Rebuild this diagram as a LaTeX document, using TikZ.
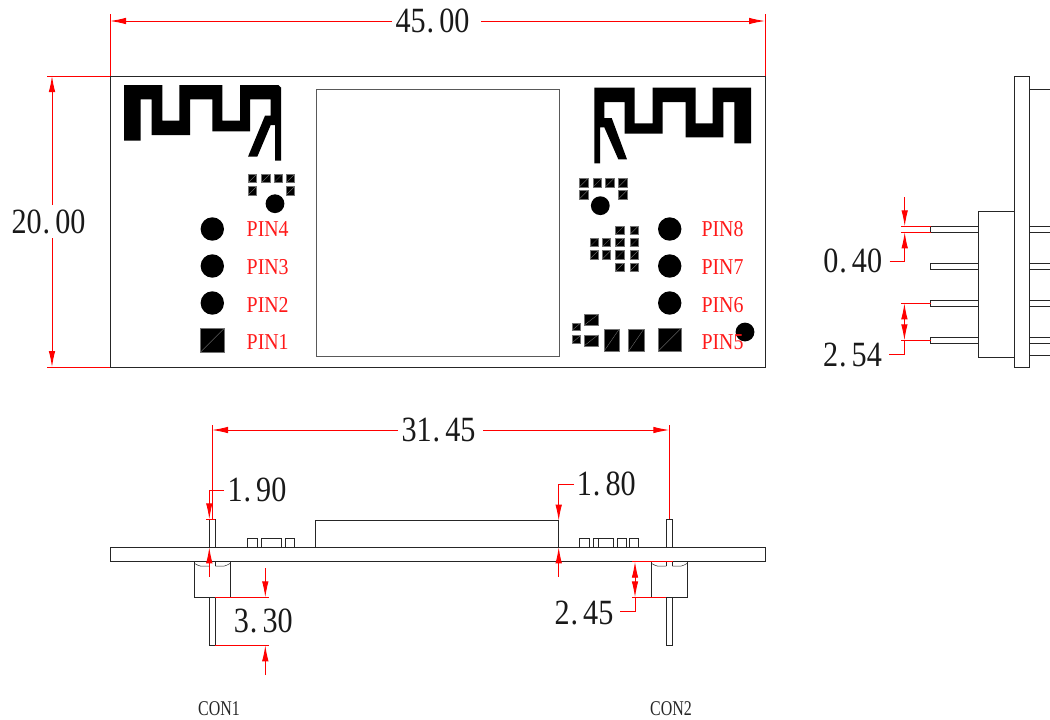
\documentclass[tikz,border=0pt]{standalone}
\usepackage{graphicx,fontspec}
\usetikzlibrary{arrows.meta,positioning}
\setmainfont{Liberation Serif}

\def\dimtxt#1.#2;{\scalebox{0.85}[1]{\fontsize{35.5}{36}\selectfont #1\kern.03em.\kern.17em#2}}
\newcommand{\pintxt}[1]{\scalebox{0.875}[1]{\fontsize{22.7}{23}\selectfont #1}}
\newcommand{\contxt}[1]{\scalebox{0.76}[1]{\fontsize{21}{21}\selectfont #1}}

\begin{document}
\begin{tikzpicture}[x=1pt,y=-1pt,line width=.8pt,
    dim/.style={red,line width=.9pt},
    dimarrow/.style={dim,-{Latex[length=16pt,width=6.5pt]}},
    dimlabel/.style={inner sep=0pt,text=black!90},
    pinlabel/.style={inner sep=0pt,text=red!90},
    conlabel/.style={inner sep=0pt,text=black!85},
    outline/.style={draw=black!85},
    copper/.style={fill=black},
    pad/.style={rectangle,fill=black,draw=black!55,line width=.4pt,inner sep=0pt,
        path picture={\draw[black!50,line width=.3pt] (path picture bounding box.south west) -- (path picture bounding box.north east);}},
    smallpad/.style={pad,minimum width=8.3pt,minimum height=8.3pt},
    hole/.style={circle,fill=black,inner sep=0pt,minimum size=23.4pt},
    via/.style={circle,fill=black,inner sep=0pt,minimum size=18.8pt}]

    \useasboundingbox (0,0) rectangle (1050,720);

    % top view
    \draw[outline] (110,76) rectangle (765,367);
    \draw[draw=black!65] (316,89) rectangle (559,356);

    \fill[copper] (124,85) -- (162.3,85) -- (162.3,120.7) -- (179.3,120.7) -- (179.3,85)
        -- (222.3,85) -- (222.3,120.7) -- (240,120.7) -- (240,85) -- (278.3,85) -- (281,87.5)
        -- (281,160.7) -- (275,160.7) -- (275,125) -- (270.7,125) -- (257.3,156.7) -- (248,156.7)
        -- (265,115.7) -- (270.7,115.7) -- (270.7,99.3) -- (250,99.3) -- (250,131.3) -- (212.3,131.3)
        -- (212.3,99.3) -- (190,99.3) -- (190,135) -- (151.7,135) -- (151.7,99.3) -- (140.7,99.3)
        -- (140.7,140.7) -- (124,140.7) -- cycle;
    \fill[copper] (594.3,87.7) -- (634.7,87.7) -- (634.7,123.3) -- (652.7,123.3) -- (652.7,87.7)
        -- (695.7,87.7) -- (695.7,123.3) -- (712.7,123.3) -- (712.7,87.7) -- (751,87.7)
        -- (751,143.3) -- (734.3,143.3) -- (734.3,102) -- (723.3,102) -- (723.3,137.3) -- (685.7,137.3)
        -- (685.7,102) -- (662.7,102) -- (662.7,133.7) -- (624.7,133.7) -- (624.7,102) -- (604.3,102)
        -- (604.3,118) -- (611.7,118) -- (627,159.3) -- (618.3,159.3) -- (604.3,127.3) -- (600,127.3)
        -- (600,163.3) -- (594.3,163.3) -- cycle;

    \foreach \x/\y [count=\i] in {252.3/178.5,265.7/178.5,278/178.5,290.3/178.5,252.3/190.8,290.3/190.8,
            583.7/182.7,597.3/182.7,609.7/182.7,622.7/182.7,583.7/194.7,622.7/194.7,
            619.7/230.3,634/230.3,594/242.5,606.5/242.5,619.7/242.5,634/242.5,
            594/254.8,606.5/254.8,619.7/254.8,634/254.8,619.7/267.2,634/267.2}
        \node[smallpad] (pad\i) at (\x,\y) {};

    \foreach \x/\y/\w/\h [count=\i] in {576.3/326.7/8.7/7.3,576.3/339.2/8.7/7.6,591.3/319.7/14/10.7,
            591.3/340.2/14/11,611.7/340/15.3/22.3,636.3/340/15.3/22.3,
            669.7/339.7/23.3/23.3,212.3/340.3/23.3/23.3}
        \node[pad,minimum width=\w pt,minimum height=\h pt] (smd\i) at (\x,\y) {};

    \foreach \x/\y [count=\i] in {212.3/229,212.3/266,212.3/303,669.7/229,669.7/266,669.7/303}
        \node[hole] (hole\i) at (\x,\y) {};
    \foreach \x/\y [count=\i] in {275/203.7,600.3/205.7,745/332}
        \node[via] (via\i) at (\x,\y) {};

    \foreach \n/\y in {4/229,3/267.3,2/304.7,1/341.7}
        \node[pinlabel] (pin\n) at (267.7,\y) {\pintxt{PIN\n}};
    \foreach \n/\y in {8/229,7/267,6/304.7,5/341.7}
        \node[pinlabel] (pin\n) at (722.5,\y) {\pintxt{PIN\n}};

    % side view
    \draw[outline] (1014.5,76) rectangle (1029.5,367);
    \draw[outline] (1014.5,211.5) -- (978.7,211.5) -- (978.7,357.7) -- (1014.5,357.7);
    \draw[outline] (1029.5,89) -- (1050,89);
    \draw[outline] (1029.5,355.7) -- (1050,355.7);
    \foreach \y in {226.3,263.3,300.3,337.3} {
        \draw[outline] (978.7,\y) -- (930.7,\y) -- (930.7,\y+6) -- (978.7,\y+6);
        \draw[outline] (1029.5,\y) -- (1050,\y);
        \draw[outline] (1029.5,\y+6) -- (1050,\y+6);
    }

    % bottom view
    \draw[outline] (110,547.3) rectangle (765,561.7);
    \draw[outline] (315.7,547.3) -- (315.7,520.7) -- (558.3,520.7) -- (558.3,547.3);
    \foreach \xa/\xb in {247.7/257.7,261.7/281.7,285.7/294.7,579.3/589.7,593.3/613,598.3/613,617.3/626.7,629.3/638.3}
        \draw[outline] (\xa,547.3) -- (\xa,538.3) -- (\xb,538.3) -- (\xb,547.3);
    \foreach \x in {209.3,666.3} {
        \draw[outline] (\x,547.3) -- (\x,519.3) -- (\x+6,519.3) -- (\x+6,547.3);
        \draw[outline] (\x,561.7) -- (\x,566);
        \draw[outline] (\x+6,561.7) -- (\x+6,566);
        \draw[outline] (\x,597.3) -- (\x,645.3) -- (\x+6,645.3) -- (\x+6,597.3);
        \draw[outline] (\x-15,561.7) rectangle (\x+21,597.3);
        \draw[outline,line width=.5pt] (\x-15,563.3) .. controls (\x-11,565.5) .. (\x-9,566) -- (\x,566);
        \draw[outline,line width=.5pt] (\x+21,563.3) .. controls (\x+17,565.5) .. (\x+15,566) -- (\x+6,566);
    }

    % dimensions, top view
    \draw[dim] (110,14) -- (110,76);
    \draw[dim] (765,14) -- (765,76);
    \draw[dimarrow] (392,21) -- (110,21);
    \draw[dimarrow] (481,21) -- (765,21);
    \node[dimlabel] (width) at (432.5,21) {\dimtxt 45.00;};
    \draw[dim] (47,76) -- (110,76);
    \draw[dim] (47,367) -- (110,367);
    \draw[dimarrow] (52,205) -- (52,76);
    \draw[dimarrow] (52,238) -- (52,367);
    \node[dimlabel] (height) at (48.5,222) {\dimtxt 20.00;};

    % dimensions, side view
    \draw[dim] (901.3,226.3) -- (930.7,226.3);
    \draw[dim] (901.3,232.3) -- (930.7,232.3);
    \draw[dimarrow] (904.7,197) -- (904.7,226.3);
    \draw[dimarrow] (889.7,261.3) -- (904.7,261.3) -- (904.7,232.3);
    \node[dimlabel] (pinw) at (852.7,261.3) {\dimtxt 0.40;};
    \draw[dim] (901.3,303.3) -- (930.7,303.3);
    \draw[dim] (901.3,340.3) -- (930.7,340.3);
    \draw[dimarrow] (904.4,322) -- (904.4,303.3);
    \draw[dimarrow] (904.4,322) -- (904.4,340.3);
    \draw[dim] (889.3,354.7) -- (904.4,354.7) -- (904.4,340.3);
    \node[dimlabel] (pinp) at (852.5,355) {\dimtxt 2.54;};

    % dimensions, bottom view
    \draw[dim] (212,425) -- (212,519.3);
    \draw[dim] (669.3,425) -- (669.3,519.3);
    \draw[dimarrow] (398,430) -- (212,430);
    \draw[dimarrow] (483,430) -- (669.3,430);
    \node[dimlabel] (pitch) at (438.5,430) {\dimtxt 31.45;};

    \draw[dimarrow] (224,490.3) -- (209.3,490.3) -- (209.3,519.3);
    \draw[dim] (206,519.3) -- (215.3,519.3);
    \draw[dimarrow] (209.3,576.7) -- (209.3,547.3);
    \node[dimlabel] (pinl) at (257,490.3) {\dimtxt 1.90;};

    \draw[dimarrow] (265.3,568) -- (265.3,597.3);
    \draw[dim] (215.3,597.3) -- (268.7,597.3);
    \draw[dim] (215.3,645.3) -- (268.7,645.3);
    \draw[dimarrow] (265.3,675) -- (265.3,645.3);
    \node[dimlabel] (pinb) at (263.3,621) {\dimtxt 3.30;};

    \draw[dimarrow] (574,484.3) -- (558.7,484.3) -- (558.7,520.7);
    \draw[dimarrow] (558.7,576.7) -- (558.7,547.3);
    \node[dimlabel] (chip) at (606.3,484.3) {\dimtxt 1.80;};

    \draw[dim] (632,561.7) -- (673,561.7);
    \draw[dim] (632,597.3) -- (666,597.3);
    \draw[dimarrow] (635,580) -- (635,561.7);
    \draw[dimarrow] (635,580) -- (635,597.3);
    \draw[dim] (620,611.7) -- (635,611.7) -- (635,597.3);
    \node[dimlabel] (conh) at (584,612.5) {\dimtxt 2.45;};

    \node[conlabel] (con1) at (219,708.5) {\contxt{CON1}};
    \node[conlabel] (con2) at (671,708.5) {\contxt{CON2}};
\end{tikzpicture}
\end{document}
